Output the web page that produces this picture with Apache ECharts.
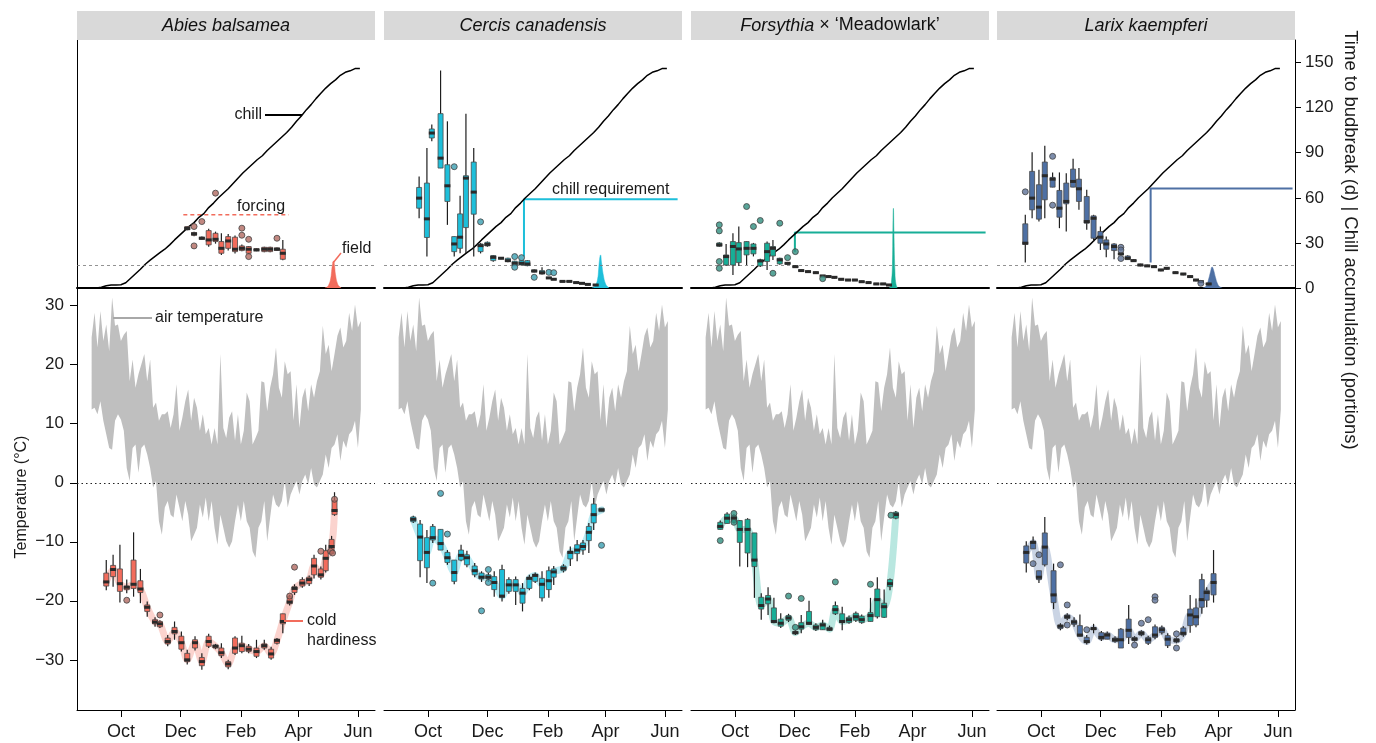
<!DOCTYPE html>
<html>
<head>
<meta charset="utf-8">
<title>Cold hardiness and budbreak</title>
<script src="https://cdn.jsdelivr.net/npm/echarts@6/dist/echarts.min.js"></script>
<style>
html,body{margin:0;padding:0;background:#fff;}
#main{width:1376px;height:743px;}
</style>
</head>
<body>
<div id="main"></div>
<script>
// x values are days since 1 October
var tickDays = [0, 61, 123, 182, 243];
var tickLabels = ['Oct', 'Dec', 'Feb', 'Apr', 'Jun'];
var budTicks = [0, 30, 60, 90, 120, 150];
var tempTicks = [-30, -20, -10, 0, 10, 20, 30];

// daily air temperature range (read every 3 days)
var airDays = [-30,-27,-24,-21,-18,-15,-12,-9,-6,-3,0,3,6,9,12,15,18,21,24,27,30,33,36,39,42,45,48,51,54,57,60,63,66,69,72,75,78,81,84,87,90,93,96,99,102,105,108,111,114,117,120,123,126,129,132,135,138,141,144,147,150,153,156,159,162,165,168,171,174,177,180,183,186,189,192,195,198,201,204,207,210,213,216,219,222,225,228,231,234,237,240,243,246];
var airHi = [24.6,28.8,22.9,29.1,24,26.8,22.3,31.4,26.6,26.8,24,25.1,25.7,17.2,20.9,16.1,18.4,20.1,21.8,17.2,20.9,12.7,13.6,10.5,11.6,11.6,12.1,9.3,11.6,16.7,8.8,11,13.8,15.8,10.5,14.4,12.7,8.8,11.6,8.2,9.3,6.5,9.3,6.5,21.8,9.3,7.6,11,12.1,7.1,11.6,6.5,8.8,15.3,13.8,6.5,7.6,8.8,17.2,17,12.1,16.1,18.4,22.9,16.1,14.4,20.6,18.4,18.9,10.5,16.7,9.3,14.4,16.1,12.1,16.7,14.4,17.2,18.9,26.6,21.8,23.4,18.9,21.8,24.9,26.3,22.9,24,28.8,25.7,30.2,26.3,27.4];
var airLo = [12.4,12.7,11.6,13.8,10.5,8.2,5.9,5.6,10.5,11.6,10.7,8.8,2.5,0.3,5.9,6.5,1.7,5.9,6.5,4.8,2.5,-0.8,0.3,-6.5,-8.8,-4.2,-3.1,-5.4,-5.9,-2,-4.2,-6.5,-3.1,-5.4,-9.9,-8.8,-7.6,-3.7,-5.9,-2.5,-6.5,-3.1,-7.6,-10.5,-5.4,-7.6,-9.9,-11,-9.9,-6.5,-3.7,-6.5,-3.1,-6.5,-7.6,-11.6,-12.7,-7.6,-6.5,-3.1,-9.9,-5.9,-2,-3.7,-4.2,-3.1,0.3,-4.2,-2,-0.8,0.3,-2,0.3,1.4,-0.3,2.5,-0.3,-0.8,0.3,1.4,4.8,2.5,5.9,6.5,8.2,3.7,7.1,5.9,8.2,8.8,10.5,5.9,12.4];

// chill accumulation (portions)
var chillDays = [-30,-25,-20,-15,-10,-5,0,5,10,15,20,25,30,35,40,45,50,55,60,65,70,75,80,85,90,95,100,105,110,115,120,125,130,135,140,145,150,155,160,165,170,175,180,185,190,195,200,205,210,215,220,225,230,235,240,245];
var chillVals = [0,0,0.5,1.5,2,2,2.2,3.5,6.5,9.5,12.5,15.8,18.5,21,23.5,25.8,28.7,32,35,38,41,43.5,47,49.5,53.5,56.5,60,63,66,69.5,73,76.5,79.5,82.5,85.5,88,91.5,94.5,97.5,100.5,103.5,107,111,114.5,118.5,122,126,129.5,133,136,138.5,141.5,143.5,144.5,146,146];
var chillThreshold = 15;

// Abies balsamea
var abiesTopDays = [68,75,83,90,97,103,110,117,124,131,139,147,153,160,166];
var abiesTopBox = [[38.5,38.7,39.6,40.9,41.2],[34.5,35.1,36,36.9,37.5],[32.2,32.4,33.1,33.8,34.2],[27.5,28.7,32,38.2,39.5],[29.5,30.9,32.4,36.4,37.5],[22,23.1,26.4,30.9,36.4],[25,26.4,31.3,34.2,36],[23,24.2,25.8,33.8,35],[24.5,24.9,26.4,28,29],[22.5,23.1,25.8,27.6,28],[24.5,24.9,25.3,26.2,26.5],[23.8,24.2,25.8,27.1,27.5],[23.8,24.2,25.8,27.1,27.5],[24.6,25,25.8,26.7,27],[18.5,19.1,23.1,25.8,32]];
var abiesTopOut = [[75,40.9],[75,28],[83,44.2],[97,63.1],[124,39.8],[124,35.1],[131,32.4],[131,20.9],[160,33.1]];
var abiesColdDays = [-15,-8,-1,6,13,20,27,35,40,48,55,62,68,76,83,90,97,103,110,117,124,131,139,147,154,160,166,173,178,186,193,198,205,210,216,219];
var abiesColdBox = [[-18.2,-17.5,-16.8,-15.3,-13.1],[-17.6,-15.9,-14.7,-14.0,-12.2],[-20.3,-18.4,-17.1,-14.6,-10.5],[-18.7,-18.1,-17.7,-17.5,-16.4],[-19.3,-17.9,-17.2,-13.1,-8.4],[-20.4,-18.6,-18.0,-16.6,-14.6],[-22.7,-21.8,-21.1,-20.7,-20.1],[-24.4,-23.9,-23.6,-23.2,-22.8],[-24.6,-24.4,-23.9,-23.5,-23.3],[-27.7,-27.3,-26.9,-26.3,-25.8],[-26.6,-25.6,-25.2,-24.5,-23.5],[-28.6,-28.2,-27.1,-26.0,-25.2],[-30.8,-30.3,-30.0,-28.9,-28.3],[-28.4,-28.0,-27.1,-26.6,-26.0],[-31.7,-31.0,-30.3,-29.6,-28.9],[-28.0,-27.7,-26.9,-26.0,-25.6],[-28.2,-28.0,-27.7,-27.5,-27.3],[-29.7,-29.3,-28.8,-28.0,-27.2],[-31.6,-31.2,-30.7,-30.3,-30.0],[-29.2,-28.9,-28.0,-26.3,-26.0],[-28.9,-28.6,-27.6,-27.2,-25.9],[-28.9,-28.6,-28.2,-27.7,-27.3],[-29.7,-29.4,-28.6,-28.0,-26.6],[-28.3,-28.0,-27.6,-27.3,-26.6],[-30.0,-29.7,-29.0,-28.2,-27.8],[-27.4,-27.2,-26.7,-26.5,-26.3],[-25.5,-23.9,-23.5,-22.2,-22.2],[-20.8,-20.5,-20.2,-19.3,-19.0],[-19.0,-18.6,-17.9,-17.6,-17.2],[-17.8,-17.5,-17.0,-16.4,-16.0],[-17.5,-17.1,-16.4,-16.0,-15.7],[-16.2,-15.6,-14.1,-12.8,-12.2],[-16.4,-16.0,-15.6,-14.6,-14.2],[-15.2,-14.9,-12.8,-11.5,-10.5],[-12.2,-12.0,-10.8,-9.6,-9.0],[-5.6,-5.4,-4.7,-3.0,-1.6]];
var abiesColdOut = [[6,-19.9],[40,-22.4],[173,-19.2],[178,-14.3],[205,-11.6],[215,-11.6],[217,-11.9],[219,-2.8]];
var abiesFieldDays = [209,211,213,215,216,217,218,219,220,222,224,226];
var abiesFieldVals = [0,0.5,2,6,11,16,18,15,9,3,1,0];
var abiesForcing = [64, 172, 48.7];

// Cercis canadensis
var cercisTopDays = [-9,-1,4,13,20,27,33,39,47,54,61,67,75,82,89,96,102,109,117,124,129,138,145,152,158,164,172];
var cercisTopBox = [[46.4,53.1,59.8,66.9,74.2],[20.9,33.6,46,69.8,93.1],[97.6,99.8,103.1,105.8,108.7],[79.8,79.8,86.4,116,144.7],[42,57.6,68,82,110.9],[20.9,24.2,29.3,34.2,34.2],[23.1,26.4,33.8,49.3,61.3],[23.1,40.2,73.1,74.7,116],[20.9,49.1,63.8,83.8,93.1],[23,24.2,28.2,29.3,30],[27.5,28,29,30.4,31],[17.5,18.2,20.4,21.6,22],[19.2,19.4,19.8,20.2,20.5],[17.2,17.6,18.2,19.8,20.2],[14.6,14.9,16.4,17.8,18.2],[15,15.3,16.4,18.2,18.6],[14.5,14.9,16,18.2,18.5],[10.4,10.7,11.3,12,12.3],[8.9,9.3,10.2,11.6,13.8],[6.2,6.4,6.7,7.1,7.3],[5.3,5.5,5.8,6.2,6.4],[4,4.2,4.4,4.7,4.9],[4,4.2,4.4,4.7,4.9],[3.2,3.4,3.6,3.9,4.1],[2.7,2.9,3.1,3.4,3.6],[2,2.2,2.4,2.7,2.9],[1.6,1.8,2,2.3,2.5]];
var cercisTopOut = [[27,80.7],[54,44],[89,20.9],[89,13.8],[96,20.2],[109,7.1],[124,10.4],[129,10.2]];
var cercisColdDays = [-15,-8,-1,5,13,20,27,34,40,48,55,62,68,76,83,90,97,104,110,117,124,129,139,146,153,159,165,170,178];
var cercisColdBox = [[-6.8,-6.6,-6.2,-5.8,-5.6],[-16.0,-13.2,-9.2,-7.0,-6.3],[-17.0,-14.4,-11.8,-9.3,-8.0],[-10.2,-9.7,-9.3,-7.4,-7.0],[-11.4,-11.4,-10.3,-7.9,-7.9],[-13.9,-13.5,-12.7,-11.8,-11.4],[-17.2,-16.7,-15.2,-13.1,-13.1],[-13.3,-13.1,-12.3,-11.4,-10.5],[-14.3,-13.9,-12.7,-12.2,-11.5],[-16.0,-15.6,-14.9,-14.1,-13.6],[-16.8,-16.3,-16.0,-15.3,-15.0],[-16.8,-16.3,-16.0,-15.6,-15.3],[-19.3,-18.1,-16.9,-15.9,-15.0],[-20.1,-19.4,-19.2,-14.7,-13.9],[-18.8,-18.4,-17.3,-16.4,-16.0],[-20.7,-18.4,-17.3,-16.4,-15.9],[-21.8,-20.4,-18.7,-17.9,-17.0],[-18.2,-17.9,-16.2,-16.0,-15.6],[-17.0,-16.7,-15.7,-15.5,-15.2],[-20.1,-19.5,-17.2,-16.2,-15.0],[-19.5,-18.1,-16.6,-14.9,-14.2],[-17.3,-16.0,-15.1,-14.6,-14.1],[-15.2,-14.9,-14.5,-14.1,-13.8],[-14.1,-12.9,-11.8,-11.6,-10.8],[-13.3,-12.0,-11.4,-10.5,-9.7],[-12.2,-11.4,-10.8,-10.2,-9.7],[-11.9,-9.8,-8.4,-7.4,-6.8],[-8.0,-6.8,-5.4,-3.6,-2.6],[-4.9,-4.9,-4.6,-4.3,-4.3]];
var cercisColdOut = [[5,-17.0],[13,-1.8],[20,-8.7],[55,-21.7],[62,-14.7],[62,-16.9],[178,-10.6]];
var cercisFieldDays = [168,170,172,174,175,176,177,178,180,182,184,186];
var cercisFieldVals = [0,0.5,2,6,12,19,22,17,8,3,1,0];
var cercisReq = [98.5, 20.9, 59.1, 256];

// Forsythia 'Meadowlark'
var forsythiaTopDays = [-16,-9,-2,4,12,19,26,33,39,46,54,62,68,75,83,90,96,102,109,116,123,130,137,145,152,158];
var forsythiaTopBox = [[27.5,27.8,28.7,30,30.5],[14.7,15.3,20.9,22,29.3],[8.7,15.3,27.6,30.9,36.4],[14.7,16.9,26,30.2,40.9],[15.3,22,26.4,30.9,30.9],[21,22.7,26.4,29.3,30],[14,14.7,18,18.7,19.5],[12,17.6,24.2,29.8,30.9],[18.7,21.3,26.4,27.6,32],[15.5,16,18.7,19.8,20.2],[15.6,15.9,16.4,16.9,17.2],[13.4,13.7,14.2,14.7,15],[10.9,11.2,11.6,12,12.3],[10.2,10.5,10.9,11.3,11.6],[9.5,9.8,10.2,10.6,10.9],[7.3,7.6,8,8.4,8.7],[6.9,7.2,7.6,8,8.3],[6.4,6.7,7.1,7.5,7.8],[5.1,5.4,5.8,6.2,6.5],[4.6,4.9,5.3,5.7,6],[4.6,4.9,5.3,5.7,6],[3.5,3.8,4.2,4.6,4.9],[2.9,3.2,3.6,4,4.3],[2,2.3,2.7,3.1,3.4],[2,2.3,2.7,3.1,3.4],[1.3,1.6,2,2.4,2.7]];
var forsythiaTopOut = [[-16,42],[-16,38],[-16,17.6],[-16,13.1],[12,54.2],[19,40.9],[26,44.9],[39,9.8],[46,43.1],[54,20.2],[62,24.2],[90,6.2]];
var forsythiaColdDays = [-15,-8,-1,5,13,20,27,34,40,47,55,62,68,76,83,90,97,103,110,117,124,130,139,146,153,159,165];
var forsythiaColdBox = [[-7.9,-7.9,-7.4,-6.7,-6.4],[-6.9,-6.9,-6.0,-5.3,-5.0],[-6.9,-6.7,-6.0,-5.6,-5.3],[-14.2,-10.1,-7.9,-6.4,-6.3],[-14.3,-11.9,-7.9,-6.2,-6.0],[-19.5,-14.2,-13.1,-8.5,-8.5],[-23.2,-21.4,-20.8,-19.4,-18.7],[-22.4,-20.5,-19.7,-19.1,-17.7],[-23.8,-23.7,-23.5,-21.2,-19.5],[-24.6,-24.3,-23.8,-23.1,-22.1],[-23.6,-23.3,-22.9,-22.5,-22.2],[-25.8,-25.6,-25.4,-25.2,-25.0],[-25.5,-24.8,-24.4,-23.7,-22.4],[-24.1,-24.0,-23.8,-21.8,-20.0],[-25.1,-24.9,-24.5,-24.1,-23.8],[-24.9,-24.9,-24.1,-23.8,-23.2],[-25.1,-25.0,-24.8,-24.5,-24.2],[-22.4,-22.2,-21.5,-20.8,-20.1],[-25.0,-23.7,-23.5,-22.2,-21.0],[-23.9,-23.7,-23.2,-22.8,-22.5],[-23.6,-23.3,-22.7,-22.1,-21.8],[-23.9,-23.7,-23.2,-22.6,-22.3],[-23.5,-23.5,-22.5,-22.0,-19.5],[-23.0,-22.7,-19.8,-18.0,-16.0],[-22.9,-22.8,-21.0,-20.4,-18.1],[-18.2,-17.6,-17.1,-16.4,-16.2],[-6.2,-6.0,-5.4,-5.0,-4.8]];
var forsythiaColdOut = [[-15,-9.8],[-1,-5.2],[-1,-6.7],[55,-19.2],[62,-24.5],[68,-19.6],[103,-16.8],[139,-17.2],[160,-5.5]];
var forsythiaFieldDays = [158,159.5,160.5,161.5,162,162.5,163,164,165,166.5];
var forsythiaFieldVals = [0,1,4,15,40,53,38,12,3,0];
var forsythiaReq = [61.5, 24.2, 36.9, 257];

// Larix kaempferi
var larixTopDays = [-16,-9,-2,4,12,19,26,33,39,47,54,61,67,75,82,89,95,102,109,116,123,129,138,146,153,159,164,172];
var larixTopBox = [[16.9,29.1,29.8,42.7,48.7],[46.4,52,59.8,77.6,90.4],[44.2,45.8,53.8,68.7,78.7],[46.4,58.7,74.7,83.8,94.7],[67.1,67.1,72.4,73.6,76.9],[39.8,47.1,53.1,64.9,76.9],[37.6,56,57.6,69.8,76.4],[67.1,67.1,70.9,79.1,86],[52,57.6,66,72.4,79.8],[38.7,43.1,44.2,60.9,65.3],[30.9,33.1,46.4,48,48.7],[25.3,29.8,33.8,37.6,40.9],[20.4,25.8,29.3,32,34.2],[19.1,24.9,27.6,29.3,29.8],[21.8,22.2,22.7,23.3,23.6],[18.6,18.9,19.8,21.3,21.8],[17.4,17.8,18.2,18.7,19],[14.5,14.9,15.3,15.8,16.1],[13.9,14.3,14.7,15.1,15.4],[13.4,13.8,14.2,14.6,14.9],[11.2,11.6,12,12.4,12.7],[12.3,12.7,13.1,13.5,13.8],[9.4,9.8,10.2,10.6,10.9],[8.5,8.9,9.3,9.7,10],[6.8,7.2,7.6,8,8.3],[4.5,4.9,5.3,5.7,6],[3.4,3.8,4.2,4.6,4.9],[1.9,2.3,2.7,3.1,3.4]];
var larixTopOut = [[-16,64],[12,87.6],[12,55.1],[82,27.1],[82,25.3],[82,19.6],[164,3.1]];
var larixColdDays = [-15,-8,-2,4,13,20,27,34,40,47,54,62,68,76,82,90,96,103,110,117,124,130,139,146,153,159,165,170,177];
var larixColdBox = [[-15.2,-13.6,-11.8,-10.7,-9.9],[-11.2,-11.2,-10.1,-9.9,-9.1],[-17.0,-16.4,-16.0,-14.9,-14.9],[-14.2,-13.9,-10.9,-8.5,-5.8],[-21.4,-20.3,-19.0,-14.9,-13.7],[-25.0,-24.7,-24.3,-24.1,-23.8],[-23.3,-23.0,-22.7,-22.4,-22.1],[-24.4,-24.0,-23.6,-23.3,-22.8],[-26.0,-26.0,-25.8,-24.2,-22.3],[-27.4,-27.1,-26.9,-26.2,-25.8],[-25.5,-24.9,-24.7,-24.6,-23.9],[-26.8,-26.5,-26.2,-25.4,-25.1],[-26.5,-26.5,-25.8,-25.5,-25.2],[-27.1,-26.9,-26.6,-26.3,-26.0],[-28.0,-28.0,-26.6,-24.8,-24.6],[-27.3,-26.2,-25.0,-23.1,-20.7],[-26.9,-26.7,-26.5,-26.2,-26.0],[-26.0,-25.8,-25.5,-25.2,-25.0],[-27.5,-27.2,-26.6,-26.2,-25.9],[-26.5,-26.2,-25.8,-24.4,-24.0],[-25.7,-25.4,-24.9,-24.5,-24.2],[-28.0,-27.6,-26.5,-25.9,-25.5],[-27.2,-27.0,-26.7,-26.4,-26.2],[-26.1,-25.8,-25.5,-24.6,-24.3],[-25.4,-24.2,-22.4,-21.4,-19.0],[-24.5,-24.1,-22.7,-21.2,-19.6],[-22.2,-21.1,-19.8,-16.4,-15.4],[-21.1,-19.9,-18.6,-18.2,-17.7],[-20.3,-19.0,-16.9,-15.4,-11.4]];
var larixColdOut = [[-8,-13.7],[-2,-12.2],[20,-13.9],[27,-20.7],[27,-24.1],[47,-24.9],[96,-27.5],[103,-23.8],[110,-23.2],[117,-19.3],[117,-19.9],[139,-25.6],[139,-28.0]];
var larixFieldDays = [166,168,170,172,174,175.5,177,179,181,183,186];
var larixFieldVals = [0,0.5,2,6,11,14,12,7,3,1,0];
var larixReq = [112.5, 16.9, 66.2, 258];

var FONT = 'Liberation Sans';
var panelLeft = [77, 384, 691, 997];
var panelWidth = 298;

var panels = [
  {title: '{i|Abies balsamea}', color: '#F26C5C', outColor: '#b26a61',
    topDays: abiesTopDays, topBox: abiesTopBox, topOut: abiesTopOut,
    coldDays: abiesColdDays, coldBox: abiesColdBox, coldOut: abiesColdOut,
    fieldDays: abiesFieldDays, fieldVals: abiesFieldVals, req: null},
  {title: '{i|Cercis canadensis}', color: '#1EBFDA', outColor: '#3b9fb1',
    topDays: cercisTopDays, topBox: cercisTopBox, topOut: cercisTopOut,
    coldDays: cercisColdDays, coldBox: cercisColdBox, coldOut: cercisColdOut,
    fieldDays: cercisFieldDays, fieldVals: cercisFieldVals, req: cercisReq},
  {title: '{i|Forsythia} × \u2018Meadowlark\u2019', color: '#17AE97', outColor: '#2f8f80',
    topDays: forsythiaTopDays, topBox: forsythiaTopBox, topOut: forsythiaTopOut,
    coldDays: forsythiaColdDays, coldBox: forsythiaColdBox, coldOut: forsythiaColdOut,
    fieldDays: forsythiaFieldDays, fieldVals: forsythiaFieldVals, req: forsythiaReq},
  {title: '{i|Larix kaempferi}', color: '#4E70A4', outColor: '#5d7196',
    topDays: larixTopDays, topBox: larixTopBox, topOut: larixTopOut,
    coldDays: larixColdDays, coldBox: larixColdBox, coldOut: larixColdOut,
    fieldDays: larixFieldDays, fieldVals: larixFieldVals, req: larixReq}
];

function pairs(xs, ys) {
  return xs.map(function(x, k) { return [x, ys[k]]; });
}

function boxRows(days, boxes) {
  return days.map(function(d, k) { return [d].concat(boxes[k]); });
}

function boxItem(color) {
  return function(params, api) {
    var d = api.value(0);
    var lo = api.coord([d, api.value(1)]);
    var q1 = api.coord([d, api.value(2)]);
    var md = api.coord([d, api.value(3)]);
    var q3 = api.coord([d, api.value(4)]);
    var hi = api.coord([d, api.value(5)]);
    var x = md[0], w = 5;
    return {type: 'group', children: [
      {type: 'line', shape: {x1: x, y1: lo[1], x2: x, y2: hi[1]}, style: {stroke: '#1e1e1e', lineWidth: 1.2}},
      {type: 'rect', shape: {x: x - w / 2, y: q3[1], width: w, height: Math.max(q1[1] - q3[1], 1)},
        style: {fill: color, stroke: '#4a4a4a', lineWidth: 0.8}},
      {type: 'rect', shape: {x: x - w / 2 - 0.5, y: md[1] - 1.5, width: w + 1, height: 3}, style: {fill: '#2a2a2a'}}
    ]};
  };
}

function bandItem(params, api) {
  if (params.dataIndex !== 0) return null;
  var pts = [];
  for (var k = 0; k < airDays.length; k++) pts.push(api.coord([airDays[k], airHi[k]]));
  for (var j = airDays.length - 1; j >= 0; j--) pts.push(api.coord([airDays[j], airLo[j]]));
  return {type: 'polygon', shape: {points: pts}, style: {fill: '#bfbfbf'}};
}

var minus = function(v) { return String(v).replace('-', '\u2212'); };

var grids = [], xAxes = [], yAxes = [], series = [];

panels.forEach(function(p, i) {
  var L = panelLeft[i];
  var top = 2 * i, bot = 2 * i + 1;
  grids.push({left: L, top: 40, width: panelWidth, height: 248, outerBoundsMode: 'none'});
  grids.push({left: L, top: 288, width: panelWidth, height: 422, outerBoundsMode: 'none'});

  xAxes.push({type: 'value', gridIndex: top, min: -45, max: 260.5,
    axisLine: {show: true, onZero: false, lineStyle: {color: '#000', width: 2}},
    axisTick: {show: false}, axisLabel: {show: false}, splitLine: {show: false}});
  xAxes.push({type: 'value', gridIndex: bot, min: -45, max: 260.5,
    axisLine: {show: true, onZero: false, lineStyle: {color: '#000', width: 1}},
    axisTick: {show: true, customValues: tickDays, length: 7, lineStyle: {color: '#000'}},
    axisLabel: {show: true, customValues: tickDays, fontSize: 18, color: '#1a1a1a', fontFamily: FONT, margin: 13,
      formatter: function(v) { return tickLabels[tickDays.indexOf(v)]; }},
    splitLine: {show: false}});

  yAxes.push({type: 'value', gridIndex: top, min: 0, max: 165, position: i == 3 ? 'right' : 'left',
    axisLine: {show: i == 0 || i == 3, onZero: false, lineStyle: {color: '#000', width: 1}},
    axisTick: {show: i == 3, customValues: budTicks, length: 6, lineStyle: {color: '#000'}},
    axisLabel: {show: i == 3, customValues: budTicks, fontSize: 17, color: '#1a1a1a', fontFamily: FONT, margin: 10},
    splitLine: {show: false}});
  yAxes.push({type: 'value', gridIndex: bot, min: -38.5, max: 33, position: i == 3 ? 'right' : 'left',
    axisLine: {show: i == 0 || i == 3, onZero: false, lineStyle: {color: '#000', width: 1}},
    axisTick: {show: i == 0, customValues: tempTicks, length: 7, lineStyle: {color: '#000'}},
    axisLabel: {show: i == 0, customValues: tempTicks, fontSize: 17, color: '#1a1a1a', fontFamily: FONT, margin: 13,
      formatter: minus},
    splitLine: {show: false}});

  // top: chill accumulation + time to budbreak
  series.push({type: 'line', xAxisIndex: top, yAxisIndex: top, data: pairs(chillDays, chillVals),
    symbol: 'none', lineStyle: {color: '#000', width: 1.5}, z: 4,
    markLine: {silent: true, symbol: ['none', 'none'], label: {show: false},
      lineStyle: {type: [3, 3], color: '#777', width: 0.8}, data: [{yAxis: chillThreshold}]}});
  series.push({type: 'line', xAxisIndex: top, yAxisIndex: top, data: pairs(p.fieldDays, p.fieldVals),
    symbol: 'none', smooth: true, lineStyle: {color: p.color, width: 0.5}, areaStyle: {color: p.color, opacity: 1}, z: 3});
  if (p.req) {
    series.push({type: 'line', xAxisIndex: top, yAxisIndex: top, symbol: 'none',
      data: [[p.req[0], p.req[1]], [p.req[0], p.req[2]], [p.req[3], p.req[2]]],
      lineStyle: {color: p.color, width: 2}, z: 3});
  } else {
    series.push({type: 'line', xAxisIndex: top, yAxisIndex: top, symbol: 'none',
      data: [[abiesForcing[0], abiesForcing[2]], [abiesForcing[1], abiesForcing[2]]],
      lineStyle: {color: p.color, width: 1.5, type: [4, 3]}, z: 3});
  }
  series.push({type: 'custom', xAxisIndex: top, yAxisIndex: top, data: boxRows(p.topDays, p.topBox),
    renderItem: boxItem(p.color), encode: {x: 0, y: [1, 2, 3, 4, 5]}, z: 5});
  series.push({type: 'scatter', xAxisIndex: top, yAxisIndex: top, data: p.topOut, symbolSize: 6,
    itemStyle: {color: p.outColor, borderColor: '#444', borderWidth: 1}, z: 6});

  // bottom: air temperature + cold hardiness
  series.push({type: 'custom', xAxisIndex: bot, yAxisIndex: bot, data: pairs(airDays, airHi),
    renderItem: bandItem, z: 1});
  series.push({type: 'line', xAxisIndex: bot, yAxisIndex: bot,
    data: p.coldDays.map(function(d, k) { return [d, p.coldBox[k][2]]; }),
    symbol: 'none', smooth: 0.3, lineStyle: {color: p.color, width: 7, opacity: 0.3, cap: 'round', join: 'round'}, z: 2,
    markLine: {silent: true, symbol: ['none', 'none'], label: {show: false},
      lineStyle: {type: [1.5, 3], color: '#222', width: 1.2}, data: [{yAxis: 0}]}});
  series.push({type: 'custom', xAxisIndex: bot, yAxisIndex: bot, data: boxRows(p.coldDays, p.coldBox),
    renderItem: boxItem(p.color), encode: {x: 0, y: [1, 2, 3, 4, 5]}, z: 5});
  series.push({type: 'scatter', xAxisIndex: bot, yAxisIndex: bot, data: p.coldOut, symbolSize: 6,
    itemStyle: {color: p.outColor, borderColor: '#444', borderWidth: 1}, z: 6});
});

var txt = function(x, y, s, align) {
  return {type: 'text', x: x, y: y, z: 100,
    style: {text: s, font: '16px "' + FONT + '"', fill: '#1a1a1a', textAlign: align || 'left', textVerticalAlign: 'middle'}};
};
var seg = function(x1, y1, x2, y2, color, w) {
  return {type: 'line', z: 100, shape: {x1: x1, y1: y1, x2: x2, y2: y2}, style: {stroke: color, lineWidth: w || 2}};
};

var graphics = [];
panels.forEach(function(p, i) {
  var L = panelLeft[i];
  graphics.push({type: 'rect', shape: {x: L, y: 11, width: panelWidth, height: 29}, style: {fill: '#d9d9d9'}, z: 90});
  graphics.push({type: 'text', x: L + panelWidth / 2, y: 25.5, z: 100,
    style: {text: p.title, font: '18px "' + FONT + '"', fill: '#111', textAlign: 'center', textVerticalAlign: 'middle',
      rich: {i: {fontStyle: 'italic', fontSize: 18, fontFamily: FONT, fill: '#111'}}}});
});
graphics.push(txt(262, 115, 'chill', 'right'));
graphics.push(seg(265, 115, 302, 115, '#000', 2));
graphics.push(txt(237, 207, 'forcing'));
graphics.push(txt(342, 249, 'field'));
graphics.push(seg(333, 263, 341, 253, '#F26C5C', 1.5));
graphics.push(txt(552, 190, 'chill requirement'));
graphics.push(txt(155, 318, 'air temperature'));
graphics.push(seg(113, 318, 152, 318, '#a8a8a8', 2));
graphics.push(txt(307, 621, 'cold'));
graphics.push(txt(307, 641, 'hardiness'));
graphics.push(seg(284, 621, 303, 621, '#F26C5C', 2));
graphics.push({type: 'text', x: 22, y: 497, rotation: Math.PI / 2, z: 100,
  style: {text: 'Temperature (°C)', font: '16px "' + FONT + '"', fill: '#1a1a1a', textAlign: 'center', textVerticalAlign: 'middle'}});
graphics.push({type: 'text', x: 1350, y: 240, rotation: -Math.PI / 2, z: 100,
  style: {text: 'Time to budbreak (d) | Chill accumulation (portions)', font: '18.5px "' + FONT + '"', fill: '#1a1a1a',
    textAlign: 'center', textVerticalAlign: 'middle'}});

var myChart = echarts.init(document.getElementById('main'));
myChart.setOption({
  animation: false,
  backgroundColor: '#fff',
  textStyle: {fontFamily: FONT},
  grid: grids,
  xAxis: xAxes,
  yAxis: yAxes,
  series: series,
  graphic: graphics
});
</script>
</body>
</html>
